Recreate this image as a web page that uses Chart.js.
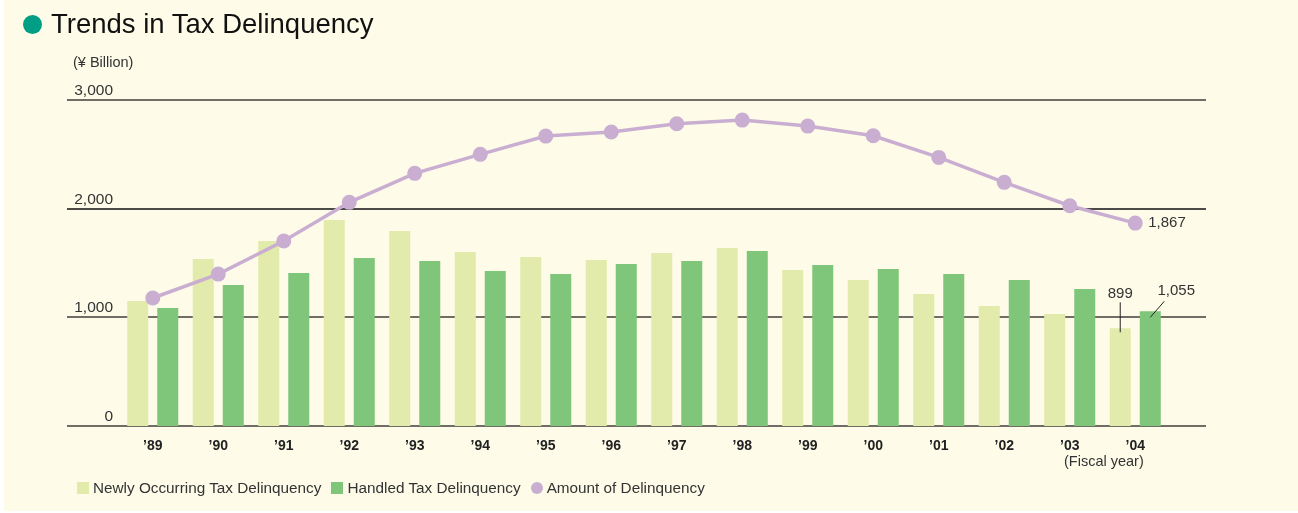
<!DOCTYPE html>
<html>
<head>
<meta charset="utf-8">
<script src="https://cdn.jsdelivr.net/npm/chart.js@4.4.1/dist/chart.umd.min.js"></script>
<style>
body{margin:0;background:#fff;font-family:"Liberation Sans",Arial,sans-serif;}
#panel{position:absolute;left:4px;top:0;width:1294px;height:511px;background:#fefce9;}
#c{position:absolute;left:0;top:0;}
#title{position:absolute;left:23px;top:8px;font-size:27.5px;color:#111;display:flex;align-items:center;white-space:nowrap}
#title .dot{width:19px;height:19px;border-radius:50%;background:#009e85;margin-right:9px}
#unit{position:absolute;left:73px;top:54px;font-size:14.5px;color:#333}
#fy{position:absolute;left:1064px;top:453px;font-size:14.5px;color:#333}
#legend{position:absolute;left:77px;top:479px;font-size:15.3px;color:#333;display:flex;align-items:center;white-space:nowrap}
#legend .sw{width:12px;height:12px;margin-right:4px}
#legend .item{display:flex;align-items:center;margin-right:10px}
</style>
</head>
<body>
<div id="panel"></div>
<canvas id="c" width="1298" height="513"></canvas>
<div id="title"><span class="dot"></span>Trends in Tax Delinquency</div>
<div id="unit">(¥ Billion)</div>
<div id="fy">(Fiscal year)</div>
<div id="legend"></div>
<script>
const years=['’89','’90','’91','’92','’93','’94','’95','’96','’97','’98','’99','’00','’01','’02','’03','’04'];
const newlyOccurring=[1150,1536,1702,1895,1794,1601,1555,1527,1592,1638,1435,1343,1214,1104,1030,899];
const handled=[1086,1297,1408,1546,1518,1426,1398,1490,1518,1610,1481,1444,1398,1343,1260,1055];
const amount=[1178,1398,1702,2058,2325,2500,2668,2705,2781,2815,2760,2671,2472,2242,2027,1867];
const yTicks=[0,1000,2000,3000];

const fmt=v=>v.toLocaleString('en-US');

const decor={
  id:'decor',
  beforeDatasetsDraw(chart){
    const {ctx,chartArea:a,scales:{x,y}}=chart;
    const left=a.left-53,right=a.right+38;
    ctx.save();
    yTicks.forEach(v=>{
      const py=Math.round(y.getPixelForValue(v));
      ctx.beginPath();
      ctx.strokeStyle=v===2000?'#111':'#6f6d64';
      ctx.lineWidth=v===2000?1.3:2;
      ctx.moveTo(left,py);ctx.lineTo(right,py);ctx.stroke();
      ctx.fillStyle='#333';
      ctx.font='15.5px "Liberation Sans", Arial, sans-serif';
      ctx.textAlign='right';ctx.textBaseline='alphabetic';
      ctx.fillText(fmt(v),113,py-5);
    });
    ctx.font='bold 14px "Liberation Sans", Arial, sans-serif';
    ctx.fillStyle='#222';
    ctx.textAlign='center';ctx.textBaseline='middle';
    years.forEach((l,i)=>ctx.fillText(l,x.getPixelForValue(i),446));
    ctx.restore();
  },
  afterDatasetsDraw(chart){
    const {ctx}=chart;
    const n=years.length-1;
    const p=chart.getDatasetMeta(2).data[n];
    const b0=chart.getDatasetMeta(0).data[n];
    const b1=chart.getDatasetMeta(1).data[n];
    ctx.save();
    ctx.fillStyle='#333';ctx.strokeStyle='#222';ctx.lineWidth=1;
    ctx.font='15px "Liberation Sans", Arial, sans-serif';
    ctx.textBaseline='middle';
    ctx.textAlign='left';
    ctx.fillText(fmt(amount[n]),p.x+13,p.y);
    ctx.textAlign='center';
    ctx.fillText(fmt(newlyOccurring[n]),b0.x,b0.y-34);
    ctx.beginPath();ctx.moveTo(b0.x,b0.y-26);ctx.lineTo(b0.x,b0.y+4);ctx.stroke();
    ctx.fillText(fmt(handled[n]),b1.x+26,b1.y-20);
    ctx.beginPath();ctx.moveTo(b1.x+14,b1.y-10);ctx.lineTo(b1.x,b1.y+6);ctx.stroke();
    ctx.restore();
  }
};

const chart=new Chart(document.getElementById('c').getContext('2d'),{
  type:'bar',
  data:{labels:years,datasets:[
    {label:'Newly Occurring Tax Delinquency',data:newlyOccurring,backgroundColor:'#e2ebab',order:2,categoryPercentage:0.917,barPercentage:0.7},
    {label:'Handled Tax Delinquency',data:handled,backgroundColor:'#7fc67a',order:2,categoryPercentage:0.917,barPercentage:0.7},
    {type:'line',label:'Amount of Delinquency',data:amount,borderColor:'#c9aed2',backgroundColor:'#c9aed2',borderWidth:3.5,pointRadius:7.5,pointBorderWidth:0,tension:0,order:1}
  ]},
  options:{
    responsive:false,animation:false,
    layout:{padding:{left:120,right:130,top:100,bottom:87}},
    scales:{x:{display:false},y:{display:false,min:0,max:3000}},
    plugins:{legend:{display:false},tooltip:{enabled:false}}
  },
  plugins:[decor]
});

const lg=document.getElementById('legend');
chart.data.datasets.forEach(d=>{
  const it=document.createElement('span');it.className='item';
  const sw=document.createElement('span');sw.className='sw';sw.style.background=d.backgroundColor;
  if(d.type==='line')sw.style.borderRadius='50%';
  it.appendChild(sw);it.appendChild(document.createTextNode(d.label));
  lg.appendChild(it);
});
</script>
</body>
</html>
